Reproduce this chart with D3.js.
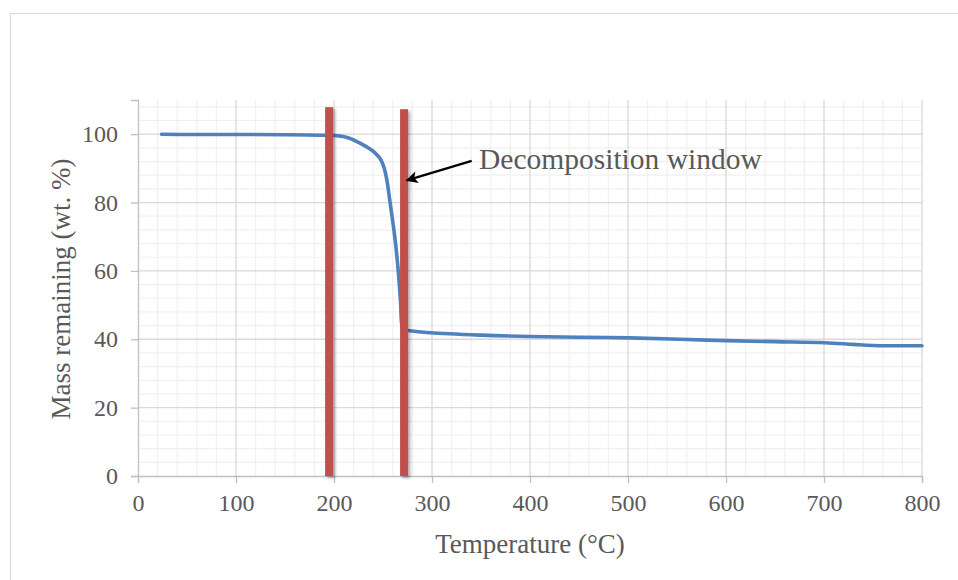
<!DOCTYPE html>
<html>
<head>
<meta charset="utf-8">
<script src="https://cdn.jsdelivr.net/npm/d3@7"></script>
<style>
  html, body { margin: 0; padding: 0; background: #fff; }
  svg { display: block; font-family: "Liberation Serif", "Times New Roman", serif; }
</style>
</head>
<body>
<svg id="chart" width="958" height="580"></svg>
<script>
// TGA curve: temperature (°C) vs. mass remaining (wt. %)
const temperature = [24, 50, 100, 150, 190, 205, 215, 227, 240, 244, 247, 249.5, 251.5, 254, 257, 262, 265.5, 268, 269.5, 272, 278, 298, 350, 400, 450, 502, 553, 601, 650, 701, 730, 750, 800];
const massRemaining = [100, 99.9, 99.9, 99.85, 99.7, 99.5, 98.9, 97.3, 95.0, 93.9, 92.9, 91.5, 89.8, 86.5, 80.5, 70, 60.2, 50.5, 44, 42.9, 42.5, 41.9, 41.2, 40.8, 40.6, 40.4, 40.0, 39.6, 39.3, 39.0, 38.5, 38.2, 38.1];

// Decomposition window markers (temperature, top of bar in wt. %)
const windowTemps = [195, 271.5];
const windowTops = [107.9, 107.3];

// Axis ticks
const xTicks = [0, 100, 200, 300, 400, 500, 600, 700, 800];
const yTicks = [0, 20, 40, 60, 80, 100];
const xMinorStep = 20;
const yMinorStep = 4;

// Annotation (text anchor, arrow start, arrow tip) in data units
const noteText = "Decomposition window";
const noteAt = [348, 89.8];
const arrowFrom = [340.5, 92.2];
const arrowTo = [274.2, 86.5];

const svg = d3.select("#chart");
const W = 958, H = 580;
const margin = { left: 138, top: 100, right: 36, bottom: 104 };
const iw = W - margin.left - margin.right;
const ih = H - margin.top - margin.bottom;

// chart frame
svg.append("rect").attr("x", 10.5).attr("y", 13.5).attr("width", 970).attr("height", 600)
  .attr("fill", "#fff").attr("stroke", "#d9d9d9").attr("stroke-width", 1.2);

const defs = svg.append("defs");
const sh = defs.append("filter").attr("id", "shadow").attr("x", "-100%").attr("y", "-5%").attr("width", "300%").attr("height", "110%");
sh.append("feDropShadow").attr("dx", 2).attr("dy", 2).attr("stdDeviation", 1.6)
  .attr("flood-color", "#000").attr("flood-opacity", 0.35);
defs.append("marker").attr("id", "arrowhead").attr("viewBox", "0 0 10 10")
  .attr("refX", 9).attr("refY", 5).attr("markerWidth", 6).attr("markerHeight", 5.5)
  .attr("orient", "auto").attr("markerUnits", "strokeWidth")
  .append("path").attr("d", "M0,0 L10,5 L0,10 L2.5,5 Z").attr("fill", "#000");

const x = d3.scaleLinear().domain([0, 800]).range([0, iw]);
const y = d3.scaleLinear().domain([0, 110]).range([ih, 0]);

const g = svg.append("g").attr("transform", `translate(${margin.left},${margin.top})`);

// minor gridlines
const xMinor = d3.range(0, 800 + 1e-9, xMinorStep).filter(v => v % 100 !== 0);
const yMinor = d3.range(0, 110 + 1e-9, yMinorStep).filter(v => v % 20 !== 0);
g.append("g").selectAll("line").data(xMinor).join("line")
  .attr("x1", d => x(d)).attr("x2", d => x(d)).attr("y1", 0).attr("y2", ih)
  .attr("stroke", "#f0f0f0").attr("stroke-width", 1.2);
g.append("g").selectAll("line").data(yMinor).join("line")
  .attr("x1", 0).attr("x2", iw).attr("y1", d => y(d)).attr("y2", d => y(d))
  .attr("stroke", "#f0f0f0").attr("stroke-width", 1.2);

// major gridlines
g.append("g").selectAll("line").data(xTicks.filter(v => v > 0)).join("line")
  .attr("x1", d => x(d)).attr("x2", d => x(d)).attr("y1", 0).attr("y2", ih)
  .attr("stroke", "#d9d9d9").attr("stroke-width", 1.3);
g.append("g").selectAll("line").data(yTicks.filter(v => v > 0)).join("line")
  .attr("x1", 0).attr("x2", iw).attr("y1", d => y(d)).attr("y2", d => y(d))
  .attr("stroke", "#d9d9d9").attr("stroke-width", 1.3);

// axes
const xAxis = g.append("g").attr("transform", `translate(0,${ih})`)
  .call(d3.axisBottom(x).tickValues(xTicks).tickSize(7).tickPadding(11).tickFormat(d3.format("d")));
const yAxis = g.append("g")
  .call(d3.axisLeft(y).tickValues(yTicks).tickSize(7).tickPadding(13).tickFormat(d3.format("d")));
[xAxis, yAxis].forEach(a => {
  a.select(".domain").attr("stroke", "#bfbfbf").attr("stroke-width", 1.3);
  a.selectAll(".tick line").attr("stroke", "#bfbfbf").attr("stroke-width", 1.3);
  a.selectAll(".tick text").attr("fill", "#595959").attr("font-size", 24)
    .attr("font-family", "Liberation Serif, Times New Roman, serif");
});

// mass curve
const line = d3.line().x((d, i) => x(temperature[i])).y(d => y(d)).curve(d3.curveCatmullRom.alpha(0.5));
g.append("path").datum(massRemaining).attr("d", line)
  .attr("fill", "none").attr("stroke", "#4f81bd").attr("stroke-width", 3.6)
  .attr("stroke-linejoin", "round").attr("stroke-linecap", "round");

// decomposition window bars
g.append("g").selectAll("rect").data(windowTemps).join("rect")
  .attr("x", d => x(d) - 4).attr("width", 8)
  .attr("y", (d, i) => y(windowTops[i])).attr("height", (d, i) => y(0) - y(windowTops[i]))
  .attr("fill", "#c0504d").attr("filter", "url(#shadow)");

// annotation
g.append("line")
  .attr("x1", x(arrowFrom[0])).attr("y1", y(arrowFrom[1]))
  .attr("x2", x(arrowTo[0])).attr("y2", y(arrowTo[1]))
  .attr("stroke", "#000").attr("stroke-width", 2.2).attr("marker-end", "url(#arrowhead)");
g.append("text").attr("x", x(noteAt[0])).attr("y", y(noteAt[1]))
  .attr("fill", "#595959").attr("font-size", 29.5).text(noteText);

// axis titles
svg.append("text").attr("x", margin.left + iw / 2).attr("y", 553)
  .attr("text-anchor", "middle").attr("fill", "#595959").attr("font-size", 27)
  .text("Temperature (°C)");
svg.append("text").attr("transform", `translate(70,${margin.top + ih / 2 + 1}) rotate(-90)`)
  .attr("text-anchor", "middle").attr("fill", "#595959").attr("font-size", 27)
  .text("Mass remaining (wt. %)");
</script>
</body>
</html>
